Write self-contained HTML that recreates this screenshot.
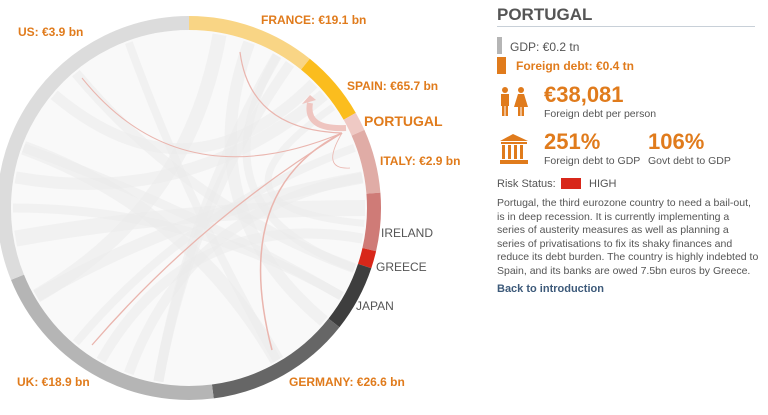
<!DOCTYPE html>
<html><head><meta charset="utf-8"><style>
body{margin:0;width:768px;height:415px;background:#fff;font-family:"Liberation Sans",Arial,sans-serif;position:relative;overflow:hidden}
.t{position:absolute;white-space:nowrap}
.o{color:#e07b1c;font-weight:bold}
.g{color:#555}
</style></head><body>
<svg id="s" width="490" height="415" style="position:absolute;left:0;top:0"></svg>
<div class="t o" style="left:18px;top:25px;font-size:12px">US: €3.9 bn</div>
<div class="t o" style="left:261px;top:13px;font-size:12px">FRANCE: €19.1 bn</div>
<div class="t o" style="left:347px;top:79px;font-size:12px">SPAIN: €65.7 bn</div>
<div class="t o" style="left:364px;top:113px;font-size:14px">PORTUGAL</div>
<div class="t o" style="left:380px;top:154px;font-size:12px">ITALY: €2.9 bn</div>
<div class="t g" style="left:381px;top:226px;font-size:12px">IRELAND</div>
<div class="t g" style="left:376px;top:260px;font-size:12px">GREECE</div>
<div class="t g" style="left:356px;top:299px;font-size:12px">JAPAN</div>
<div class="t o" style="left:17px;top:375px;font-size:12px">UK: €18.9 bn</div>
<div class="t o" style="left:289px;top:375px;font-size:12px">GERMANY: €26.6 bn</div>

<div class="t" style="left:497px;top:5px;font-size:17px;font-weight:bold;color:#555">PORTUGAL</div>
<div style="position:absolute;left:497px;top:26px;width:258px;height:1px;background:#c8d0d8"></div>
<div style="position:absolute;left:497px;top:37px;width:5px;height:17px;background:#b5b5b5"></div>
<div class="t" style="left:510px;top:40px;font-size:12px;color:#555">GDP: €0.2 tn</div>
<div style="position:absolute;left:497px;top:57px;width:9px;height:17px;background:#e07b1c"></div>
<div class="t o" style="left:516px;top:59px;font-size:12px">Foreign debt: €0.4 tn</div>
<svg style="position:absolute;left:498px;top:86px" width="40" height="82">
<g fill="#e07b1c">
<circle cx="7" cy="4" r="3"/><rect x="3" y="8" width="8" height="12"/><rect x="4" y="19" width="2.5" height="11"/><rect x="7.5" y="19" width="2.5" height="11"/>
<circle cx="23" cy="4" r="3"/><polygon points="20,8 26,8 30,21 16,21"/><rect x="20" y="21" width="2.5" height="9"/><rect x="23.5" y="21" width="2.5" height="9"/>
<polygon points="15,48 2,55 30,55"/><rect x="3" y="56" width="26" height="2"/>
<rect x="4" y="59" width="3" height="14"/><rect x="10" y="59" width="3" height="14"/><rect x="16" y="59" width="3" height="14"/><rect x="22" y="59" width="3" height="14"/>
<rect x="2" y="74" width="28" height="4"/></g></svg>
<div class="t o" style="left:544px;top:82px;font-size:22px">€38,081</div>
<div class="t" style="left:544px;top:108px;font-size:10.5px;color:#555">Foreign debt per person</div>
<div class="t o" style="left:544px;top:129px;font-size:22px">251%</div>
<div class="t o" style="left:648px;top:129px;font-size:22px">106%</div>
<div class="t" style="left:544px;top:155px;font-size:10.5px;color:#555">Foreign debt to GDP</div>
<div class="t" style="left:648px;top:155px;font-size:10.5px;color:#555">Govt debt to GDP</div>
<div class="t" style="left:497px;top:178px;font-size:11px;color:#555">Risk Status:</div>
<div style="position:absolute;left:561px;top:178px;width:20px;height:11px;background:#d8271a"></div>
<div class="t" style="left:589px;top:178px;font-size:11px;color:#555">HIGH</div>
<div class="t" style="left:497px;top:197px;font-size:10.5px;line-height:13.6px;color:#555">Portugal, the third eurozone country to need a bail-out,<br>is in deep recession. It is currently implementing a<br>series of austerity measures as well as planning a<br>series of privatisations to fix its shaky finances and<br>reduce its debt burden. The country is highly indebted to<br>Spain, and its banks are owed 7.5bn euros by Greece.</div>
<div class="t" style="left:497px;top:283px;font-size:11px;font-weight:bold;color:#3d5a7a">Back to introduction</div>
<script>
var s=document.getElementById('s'),cx=189,cy=208,R=185,ns='http://www.w3.org/2000/svg';
function P(a,r){a=a*Math.PI/180;return [cx+r*Math.cos(a),cy+r*Math.sin(a)];}
function add(tag,at){var e=document.createElementNS(ns,tag);for(var k in at)e.setAttribute(k,at[k]);s.appendChild(e);return e;}
add('circle',{cx:cx,cy:cy,r:178,fill:'#f9f9f9'});
var gc=[[-80,150,14],[-60,100,10],[-40,190,12],[0,170,16],[10,120,10],[-70,40,12],[200,60,14],[230,20,10],[-20,130,8],[150,-10,12],[100,-55,10],[180,30,9],[220,-45,11],[60,250,8],[-10,110,10],[20,-60,8],[30,200,9],[5,-35,7]];
gc.forEach(function(c){var a=P(c[0],176),b=P(c[1],176);add('path',{d:'M'+a+' Q'+cx+','+cy+' '+b,stroke:'#ebebeb','stroke-width':c[2],fill:'none',opacity:0.55});});
var seg=[[-90,-51,'#f9d585'],[-51,-29.7,'#fbbd1e'],[-29.7,-24,'#efc9c4'],[-24,-4.6,'#e0aca6'],[-4.6,13,'#cf7b77'],[13,18.3,'#d8271a'],[18.3,38.4,'#3e3e3e'],[38.4,82.6,'#666666'],[82.6,158,'#b5b5b5'],[158,270,'#dcdcdc']];
seg.forEach(function(g){var a=P(g[0],R),b=P(g[1],R),l=(g[1]-g[0])>180?1:0;add('path',{d:'M'+a+' A'+R+','+R+' 0 '+l+' 1 '+b,stroke:g[2],'stroke-width':14,fill:'none'});});
var pk='#eab5ae';
[['M342,133 Q250,130 240,52',1.2],['M342,133 Q180,200 82,78',1],['M342,133 Q200,220 92,345',1.3],['M342,133 Q230,190 272,350',1.5],['M342,133 Q320,170 350,168',0.8]].forEach(function(p){add('path',{d:p[0],stroke:pk,'stroke-width':p[1],fill:'none'});});
add('path',{d:'M346,128 Q305,130 310,103',stroke:'#efc5c0','stroke-width':6,fill:'none'});
add('polygon',{points:'302,104 316,100 310,95',fill:'#efc5c0'});
</script>
</body></html>
